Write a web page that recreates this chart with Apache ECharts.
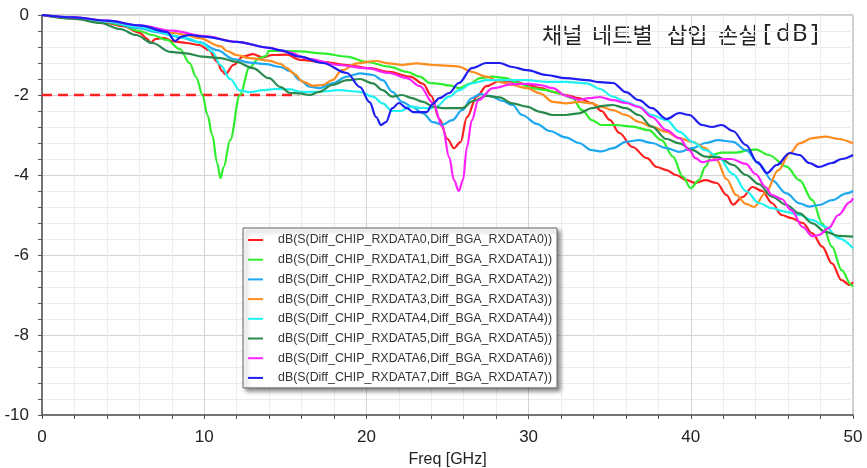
<!DOCTYPE html>
<html>
<head>
<meta charset="utf-8">
<script src="https://cdn.jsdelivr.net/npm/echarts@6/dist/echarts.min.js"></script>
<style>
  html, body { margin: 0; padding: 0; background: #fff; }
  #chart { width: 867px; height: 468px; }
</style>
</head>
<body>
<div id="chart"></div>
<script>
// 채널별 삽입 손실 데이터 [GHz, dB]
var names = [
  'dB(S(Diff_CHIP_RXDATA0,Diff_BGA_RXDATA0))',
  'dB(S(Diff_CHIP_RXDATA1,Diff_BGA_RXDATA1))',
  'dB(S(Diff_CHIP_RXDATA2,Diff_BGA_RXDATA2))',
  'dB(S(Diff_CHIP_RXDATA3,Diff_BGA_RXDATA3))',
  'dB(S(Diff_CHIP_RXDATA4,Diff_BGA_RXDATA4))',
  'dB(S(Diff_CHIP_RXDATA5,Diff_BGA_RXDATA5))',
  'dB(S(Diff_CHIP_RXDATA6,Diff_BGA_RXDATA6))',
  'dB(S(Diff_CHIP_RXDATA7,Diff_BGA_RXDATA7))'
];
var colors = ['#ff1f1f', '#2eee2e', '#1ea8f0', '#ff8c1e', '#1ef2f2', '#2a8a4e', '#ff22ff', '#1e1ef0'];

var rx0 = [[0,0],[2,-0.08],[4,-0.2],[5,-0.28],[6,-0.44],[6.5,-0.6],[6.7,-0.7],[7.0,-0.6],[7.5,-0.57],[8.1,-0.66],[8.9,-0.7],[9.7,-0.75],[10.3,-0.88],[10.8,-1.17],[11.1,-1.4],[11.3,-1.48],[11.8,-1.25],[12.4,-1.04],[13.0,-0.98],[13.6,-1.06],[14.2,-1.0],[15.1,-0.99],[15.9,-1.12],[17.3,-1.17],[18.8,-1.25],[20.2,-1.33],[21.4,-1.42],[22.7,-1.54],[23.5,-1.72],[24.0,-2.02],[24.5,-2.6],[25.0,-3.1],[25.4,-3.33],[25.8,-3.18],[26.2,-2.55],[26.8,-2.04],[27.4,-1.78],[28.2,-1.65],[29.2,-1.67],[29.9,-1.74],[30.7,-1.82],[31.5,-1.92],[32.3,-2.0],[33.1,-2.08],[33.9,-2.2],[34.5,-2.4],[35.0,-2.62],[35.6,-2.95],[36.4,-3.3],[37.3,-3.58],[37.9,-3.8],[38.5,-3.88],[39.1,-4.0],[39.7,-4.12],[40.3,-4.2],[40.9,-4.13],[41.6,-4.2],[42.2,-4.5],[42.6,-4.74],[43.2,-4.55],[43.8,-4.3],[44.4,-4.4],[45.0,-4.7],[45.6,-5.0],[46.2,-5.08],[46.9,-5.2],[47.5,-5.46],[48.1,-5.79],[48.7,-6.21],[49.3,-6.63],[49.8,-6.75],[50,-6.68]];
var rx1 = [[0,0],[2,-0.07],[4,-0.18],[4.8,-0.24],[6,-0.4],[6.8,-0.5],[7.7,-0.62],[8.5,-0.85],[9.1,-1.2],[9.5,-1.55],[9.9,-2.0],[10.2,-2.5],[10.5,-3.0],[10.8,-3.7],[11.0,-4.08],[11.2,-3.8],[11.6,-3.13],[12.2,-2.0],[12.8,-1.3],[13.4,-1.08],[13.85,-1.02],[13.95,-0.9],[14.5,-0.9],[15.9,-0.91],[17.3,-0.96],[18.8,-1.04],[20.0,-1.17],[21.4,-1.29],[22.5,-1.42],[23.3,-1.54],[23.9,-1.7],[24.5,-1.72],[25.1,-1.76],[25.7,-1.83],[26.4,-1.71],[27.0,-1.58],[27.8,-1.54],[28.6,-1.58],[29.4,-1.71],[30.2,-1.83],[31.1,-1.88],[31.9,-1.96],[32.7,-2.08],[33.3,-2.38],[33.9,-2.63],[34.5,-2.75],[35.4,-2.75],[36.4,-2.79],[37.4,-2.88],[38.2,-3.13],[38.9,-3.54],[39.5,-4.04],[40.0,-4.33],[40.5,-4.13],[40.9,-3.79],[41.3,-3.5],[41.9,-3.44],[42.8,-3.44],[43.6,-3.38],[44.0,-3.36],[44.8,-3.5],[45.9,-3.79],[46.7,-4.13],[47.5,-4.63],[48.1,-5.21],[48.7,-5.79],[49.3,-6.38],[49.9,-6.75],[50,-6.8]];
var rx2 = [[0,0],[2,-0.07],[4,-0.17],[6,-0.33],[7,-0.42],[8.1,-0.52],[8.5,-0.56],[9.7,-0.68],[10.8,-0.88],[11.8,-1.1],[12.8,-1.19],[13.8,-1.23],[14.7,-1.3],[15.3,-1.4],[15.9,-1.63],[16.5,-1.79],[17.1,-1.83],[17.9,-1.71],[18.8,-1.54],[19.6,-1.46],[20.4,-1.5],[21.0,-1.63],[21.6,-1.92],[22.2,-2.17],[22.8,-2.29],[23.5,-2.46],[24.1,-2.68],[24.7,-2.74],[25.3,-2.63],[25.9,-2.38],[26.5,-2.08],[27.0,-1.98],[27.6,-2.02],[28.4,-2.15],[29.0,-2.25],[29.6,-2.5],[30.5,-2.72],[31.3,-2.9],[32.3,-3.06],[33.1,-3.2],[33.9,-3.38],[34.5,-3.41],[35.2,-3.33],[36.0,-3.17],[36.8,-3.13],[37.6,-3.2],[38.5,-3.33],[39.3,-3.42],[40.1,-3.33],[40.9,-3.2],[41.7,-3.13],[42.6,-3.17],[43.4,-3.38],[44.2,-3.72],[45.0,-4.13],[45.9,-4.46],[46.7,-4.71],[47.3,-4.79],[47.9,-4.75],[48.7,-4.63],[49.6,-4.46],[50,-4.4]];
var rx3 = [[0,0],[2,-0.07],[4,-0.16],[6,-0.27],[6.8,-0.33],[8.1,-0.45],[8.9,-0.5],[9.7,-0.58],[11.0,-0.78],[11.4,-0.9],[12.0,-1.0],[12.8,-1.08],[14.0,-1.14],[14.7,-1.22],[15.1,-1.33],[15.5,-1.46],[16.1,-1.67],[16.7,-1.77],[17.3,-1.75],[17.9,-1.63],[18.5,-1.38],[19.4,-1.21],[20.6,-1.15],[21.4,-1.21],[22.2,-1.25],[23.1,-1.21],[24.1,-1.25],[25.1,-1.27],[25.7,-1.29],[26.5,-1.42],[27.4,-1.54],[28.2,-1.67],[29.0,-1.75],[29.9,-1.83],[30.7,-1.96],[31.5,-2.17],[32.3,-2.21],[33.1,-2.17],[33.9,-2.21],[34.5,-2.3],[35.2,-2.38],[36.0,-2.5],[36.8,-2.67],[37.6,-2.79],[38.5,-2.92],[39.3,-3.08],[40.1,-3.17],[40.9,-3.33],[41.6,-3.63],[42.2,-4.1],[42.8,-4.5],[43.4,-4.72],[43.9,-4.8],[44.6,-4.45],[45.4,-3.88],[46.1,-3.46],[46.7,-3.21],[47.5,-3.08],[48.3,-3.04],[49.1,-3.1],[50,-3.21]];
var rx4 = [[0,0],[2,-0.07],[4,-0.16],[6,-0.3],[7,-0.4],[7.9,-0.5],[8.9,-0.58],[9.9,-0.71],[10.5,-0.92],[11.0,-1.25],[11.6,-1.6],[12.2,-1.89],[12.8,-1.93],[13.6,-1.88],[14.4,-1.85],[15.3,-1.86],[15.9,-1.92],[17.1,-1.92],[18.3,-1.88],[19.6,-1.92],[20.4,-2.04],[21.0,-2.21],[21.6,-2.4],[22.1,-2.4],[22.7,-2.29],[23.3,-2.32],[23.9,-2.33],[24.3,-2.29],[25.1,-2.04],[25.7,-1.88],[26.5,-1.71],[27.4,-1.63],[28.6,-1.63],[29.9,-1.63],[31.1,-1.67],[32.3,-1.67],[33.6,-1.71],[34.4,-1.85],[35.2,-2.04],[36.0,-2.17],[36.8,-2.29],[37.6,-2.5],[38.5,-2.63],[39.3,-2.92],[40.1,-3.17],[40.9,-3.38],[41.7,-3.55],[42.6,-3.98],[43.4,-4.4],[44.2,-4.7],[45.0,-4.83],[45.9,-4.92],[46.7,-5.0],[47.5,-5.13],[48.3,-5.29],[49.1,-5.58],[50,-5.83]];
var rx5 = [[0,0],[2,-0.1],[3.6,-0.2],[4.8,-0.35],[5.8,-0.5],[6.8,-0.7],[7.9,-0.92],[8.9,-0.96],[9.9,-1.04],[11.0,-1.08],[12.0,-1.17],[13.0,-1.33],[14.0,-1.58],[14.7,-1.8],[15.3,-1.95],[15.9,-1.96],[16.5,-2.0],[17.1,-1.92],[17.9,-1.75],[18.8,-1.63],[19.6,-1.6],[20.4,-1.71],[21.0,-1.88],[21.6,-2.04],[22.2,-2.0],[22.8,-2.08],[23.5,-2.17],[24.1,-2.29],[24.7,-2.33],[25.9,-2.33],[26.6,-2.15],[27.4,-2.02],[28.2,-2.06],[29.0,-2.21],[29.9,-2.29],[30.7,-2.42],[31.5,-2.5],[32.3,-2.5],[33.1,-2.46],[33.9,-2.33],[34.6,-2.27],[35.2,-2.25],[36.0,-2.33],[36.8,-2.5],[37.6,-2.79],[38.5,-3.1],[39.3,-3.21],[40.1,-3.38],[40.9,-3.54],[41.7,-3.56],[42.6,-3.75],[43.4,-4.0],[44.2,-4.23],[45.0,-4.54],[45.9,-4.75],[46.7,-4.96],[47.5,-5.21],[48.3,-5.42],[49.1,-5.52],[50,-5.54]];
var rx6 = [[0,0],[2,-0.06],[4,-0.14],[6,-0.26],[8,-0.39],[10,-0.53],[12,-0.67],[14,-0.82],[15.1,-0.92],[16.5,-1.1],[18.3,-1.25],[20.0,-1.33],[21.4,-1.45],[22.5,-1.58],[23.3,-1.78],[24.1,-2.2],[24.7,-2.8],[25.1,-3.55],[25.4,-4.13],[25.7,-4.4],[25.95,-4.13],[26.2,-3.3],[26.5,-2.63],[26.9,-2.13],[27.8,-1.83],[29.0,-1.73],[30.0,-1.72],[30.7,-1.75],[31.5,-1.83],[32.3,-2.02],[33.1,-2.12],[33.7,-2.08],[34.4,-2.05],[35.2,-2.13],[36.0,-2.2],[36.8,-2.3],[37.6,-2.55],[38.5,-2.88],[39.3,-3.08],[39.9,-3.38],[40.3,-3.58],[40.7,-3.68],[41.3,-3.63],[41.9,-3.6],[42.5,-3.6],[43.4,-3.72],[44.0,-3.98],[44.6,-4.3],[45.0,-4.5],[45.6,-4.6],[46.2,-4.88],[46.9,-5.3],[47.5,-5.53],[47.9,-5.5],[48.5,-5.33],[49.1,-5.0],[49.8,-4.68],[50,-4.58]];
var rx7 = [[0,0],[2,-0.06],[4,-0.14],[6,-0.26],[7.7,-0.42],[8.2,-0.65],[8.6,-0.54],[9.1,-0.5],[10,-0.54],[12,-0.67],[14,-0.82],[14.65,-0.88],[15.9,-1.04],[17.3,-1.2],[18.8,-1.45],[19.6,-1.8],[20.2,-2.18],[20.6,-2.55],[20.9,-2.75],[21.2,-2.68],[21.6,-2.33],[22.0,-2.2],[22.5,-2.33],[22.9,-2.43],[23.7,-2.43],[24.1,-2.22],[24.5,-2.08],[25.1,-1.95],[25.7,-1.7],[26.5,-1.33],[27.4,-1.2],[28.2,-1.2],[29.0,-1.3],[29.9,-1.38],[31.1,-1.5],[32.3,-1.58],[33.6,-1.63],[34.4,-1.68],[35.2,-1.7],[36.0,-1.93],[36.8,-2.13],[37.6,-2.33],[38.5,-2.6],[39.3,-2.45],[39.9,-2.5],[40.7,-2.75],[41.3,-2.8],[41.9,-2.75],[42.6,-2.9],[43.4,-3.25],[44.1,-3.68],[44.7,-3.95],[45.3,-3.75],[46.1,-3.45],[46.7,-3.5],[47.3,-3.7],[47.9,-3.8],[48.7,-3.7],[49.3,-3.6],[50,-3.5]];

// 기준선 (-2 dB, 0 ~ 15.8 GHz)
var limitDb = -2;
var limitFreq = [0, 15.8];

var curves = [rx0, rx1, rx2, rx3, rx4, rx5, rx6, rx7];

var chart = echarts.init(document.getElementById('chart'));

var series = [{
  name: 'limit',
  type: 'line',
  symbol: 'none',
  silent: true,
  data: limitFreq.map(function (f) { return [f, limitDb]; }),
  lineStyle: { color: '#ff2020', width: 2.5, type: [10, 6] },
  z: 1
}];
curves.forEach(function (d, i) {
  series.push({
    name: names[i],
    type: 'line',
    symbol: 'none',
    smooth: 0.35,
    smoothMonotone: 'x',
    data: d,
    lineStyle: { color: colors[i], width: 2.2 },
    itemStyle: { color: colors[i] },
    z: 2
  });
});

// 제목: 단어별로 배치 (원본의 넓은 자간 재현)
var krFont = { fontFamily: 'Noto Sans CJK KR', fontSize: 22, fill: '#222' };
var enFont = { fontFamily: 'Noto Sans', fontSize: 24, fill: '#222' };
var titleParts = [
  ['채널', 542, krFont, 24], ['네트별', 592, krFont, 24], ['삽입', 667, krFont, 24], ['손실', 718, krFont, 24],
  ['[', 763, enFont, 22], ['d', 776, enFont, 22], ['B', 792, enFont, 22], [']', 811, enFont, 22]
];
var graphics = titleParts.map(function (p) {
  return {
    type: 'text', left: p[1], top: p[3], silent: true,
    style: Object.assign({ text: p[0] }, p[2])
  };
});

var option = {
  animation: false,
  backgroundColor: '#fff',
  graphic: graphics,
  grid: {
    left: 42, right: 14, top: 15, bottom: 53,
    outerBoundsMode: 'none',
    containLabel: false,
    show: true, borderColor: '#999', borderWidth: 1, backgroundColor: 'transparent'
  },
  legend: {
    data: names,
    orient: 'vertical',
    left: 243,
    top: 228,
    icon: 'rect',
    itemWidth: 15,
    itemHeight: 2,
    itemGap: 5.7,
    padding: [5, 5, 3, 5],
    backgroundColor: '#fff',
    borderColor: '#666',
    borderWidth: 1,
    borderRadius: 0,
    shadowColor: 'rgba(0,0,0,0.45)',
    shadowBlur: 4,
    shadowOffsetX: 3,
    shadowOffsetY: 3,
    textStyle: { fontFamily: 'Liberation Sans', fontSize: 12.4, color: '#333', lineHeight: 14, padding: [0, 0, 0, 10] }
  },
  xAxis: {
    type: 'value',
    min: 0, max: 50, interval: 10,
    name: 'Freq [GHz]',
    nameLocation: 'middle',
    nameGap: 37,
    nameTextStyle: { fontFamily: 'Liberation Sans', fontSize: 16, color: '#222' },
    axisLine: { show: true, onZero: false, lineStyle: { color: '#555', width: 1.5 } },
    axisTick: { show: true, length: 4, lineStyle: { color: '#555' } },
    minorTick: { show: true, splitNumber: 5, length: 4, lineStyle: { color: '#555' } },
    axisLabel: { margin: 14, fontFamily: 'Liberation Sans', fontSize: 17, color: '#222' },
    splitLine: { show: true, lineStyle: { color: '#d4d4d4', width: 1 } },
    minorSplitLine: { show: true, lineStyle: { color: '#ececec', width: 1 } }
  },
  yAxis: {
    type: 'value',
    min: -10, max: 0, interval: 2,
    axisLine: { show: true, onZero: false, lineStyle: { color: '#555', width: 1.5 } },
    axisTick: { show: true, length: 4, lineStyle: { color: '#555' } },
    minorTick: { show: true, splitNumber: 5, length: 4, lineStyle: { color: '#555' } },
    axisLabel: { margin: 13, fontFamily: 'Liberation Sans', fontSize: 17, color: '#222' },
    splitLine: { show: true, lineStyle: { color: '#d4d4d4', width: 1 } },
    minorSplitLine: { show: true, lineStyle: { color: '#ececec', width: 1 } }
  },
  series: series
};

chart.setOption(option);
</script>
</body>
</html>
